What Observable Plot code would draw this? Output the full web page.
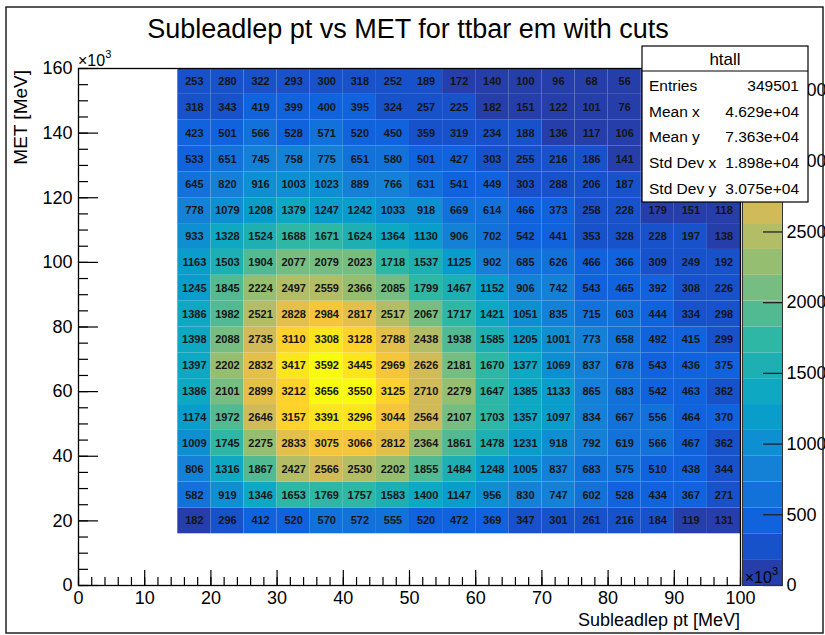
<!DOCTYPE html>
<html><head><meta charset="utf-8">
<script src="https://cdn.jsdelivr.net/npm/d3@7"></script>
<script src="https://cdn.jsdelivr.net/npm/@observablehq/plot@0.6"></script>
<style>
body{margin:0;background:#fff;}
#wrap{position:relative;width:825px;height:635px;overflow:hidden;font-family:"Liberation Sans",Arial,Helvetica,sans-serif;background:#fff;}
#wrap svg{position:absolute;top:0;overflow:hidden;}
</style></head><body><div id="wrap"></div>
<script>
// ---- data ----
const ptEdges  = [15,20,25,30,35,40,45,50,55,60,65,70,75,80,85,90,95,100]; // Subleadlep pt bin edges (x10^3 MeV)
const metEdges = [16,24,32,40,48,56,64,72,80,88,96,104,112,120,128,136,144,152,160]; // MET bin edges (x10^3 MeV)
// counts per MET bin (named by lower edge), left to right in pt
const met16  = [182,296,412,520,570,572,555,520,472,369,347,301,261,216,184,119,131];
const met24  = [582,919,1346,1653,1769,1757,1583,1400,1147,956,830,747,602,528,434,367,271];
const met32  = [806,1316,1867,2427,2566,2530,2202,1855,1484,1248,1005,837,683,575,510,438,344];
const met40  = [1009,1745,2275,2833,3075,3066,2812,2364,1861,1478,1231,918,792,619,566,467,362];
const met48  = [1174,1972,2646,3157,3391,3296,3044,2564,2107,1703,1357,1097,834,667,556,464,370];
const met56  = [1386,2101,2899,3212,3656,3550,3125,2710,2279,1647,1385,1133,865,683,542,463,362];
const met64  = [1397,2202,2832,3417,3592,3445,2969,2626,2181,1670,1377,1069,837,678,543,436,375];
const met72  = [1398,2088,2735,3110,3308,3128,2788,2438,1938,1585,1205,1001,773,658,492,415,299];
const met80  = [1386,1982,2521,2828,2984,2817,2517,2067,1717,1421,1051,835,715,603,444,334,298];
const met88  = [1245,1845,2224,2497,2559,2366,2085,1799,1467,1152,906,742,543,465,392,308,226];
const met96  = [1163,1503,1904,2077,2079,2023,1718,1537,1125,902,685,626,466,366,309,249,192];
const met104 = [933,1328,1524,1688,1671,1624,1364,1130,906,702,542,441,353,328,228,197,138];
const met112 = [778,1079,1208,1379,1247,1242,1033,918,669,614,466,373,258,228,179,151,118];
const met120 = [645,820,916,1003,1023,889,766,631,541,449,303,288,206,187,160,128,96];
const met128 = [533,651,745,758,775,651,580,501,427,303,255,216,186,141,118,96,80];
const met136 = [423,501,566,528,571,520,450,359,319,234,188,136,117,106,88,72,58];
const met144 = [318,343,419,399,400,395,324,257,225,182,151,122,101,76,64,50,42];
const met152 = [253,280,322,293,300,318,252,189,172,140,100,96,68,56,46,38,30];
const metRows = [met16,met24,met32,met40,met48,met56,met64,met72,met80,met88,met96,met104,met112,met120,met128,met136,met144,met152];

const xTicks = [0,10,20,30,40,50,60,70,80,90,100];
const yTicks = [0,20,40,60,80,100,120,140,160];
const zTicks = [0,500,1000,1500,2000,2500,3000,3500];
const statLabels = ["Entries","Mean x","Mean y","Std Dev x","Std Dev y"];
const statValues = ["349501","4.629e+04","7.363e+04","1.898e+04","3.075e+04"];
const histName = "htall";
const title = "Subleadlep pt vs MET for ttbar em with cuts";
const xLabel = "Subleadlep pt [MeV]";
const yLabel = "MET [MeV]";

// ---- build cells ----
const cells = [];
metRows.forEach((row, j) => row.forEach((v, i) => {
  if (v > 0) cells.push({x1: ptEdges[i], x2: ptEdges[i+1], y1: metEdges[j], y2: metEdges[j+1], v});
}));
// stats box region (in data units) hides some cell labels
const boxX = 85, boxY = 120;
const labelled = cells.filter(d => !(d.x1 >= boxX && d.y1 >= boxY));
const zmax = d3.max(cells, d => d.v);
const nCont = 20;
const levels = d3.range(1, nCont).map(k => k * zmax / nCont);
const birdStops = ["#352a87","#0f5cdd","#1481d6","#06a4ca","#2eb7a4","#87bf77","#d1bb59","#fec832","#f9fb0e"];
const bird = d3.piecewise(d3.interpolateRgb, birdStops);
const bandColors = d3.range(nCont).map(i => bird(Math.min(1,(i + 0.99) / nCont)));
const colorOpt = {type: "threshold", domain: levels, range: bandColors};

const FONT = '"Liberation Sans", Arial, Helvetica, sans-serif';
const wrap = document.getElementById("wrap");

// ---- main heat map ----
const main = Plot.plot({
  width: 825, height: 635,
  marginLeft: 78, marginRight: 85, marginTop: 68, marginBottom: 50,
  x: {domain: [0, 100]},
  y: {domain: [0, 160]},
  color: colorOpt,
  style: {fontFamily: FONT, fontSize: "17px", color: "#000", background: "transparent"},
  marks: [
    Plot.rect(cells, {x1: "x1", x2: "x2", y1: "y1", y2: "y2", fill: "v"}),
    Plot.text(labelled, {x: d => (d.x1 + d.x2) / 2, y: d => (d.y1 + d.y2) / 2, text: d => String(d.v),
      fontSize: 11, fontWeight: "bold", fill: "#151515"}),
    Plot.axisX({ticks: d3.range(0, 101, 2), tickSize: -8, tickFormat: () => "", label: null, strokeWidth: 1.2}),
    Plot.axisX({ticks: xTicks, tickSize: -15, tickFormat: () => "", label: null, strokeWidth: 1.2}),
    Plot.axisX({ticks: xTicks, tickSize: 0, tickPadding: 6, tickFormat: d => String(d), label: null, fontSize: 18}),
    Plot.axisY({ticks: d3.range(0, 161, 5), tickSize: -10, tickFormat: () => "", label: null, strokeWidth: 1.2}),
    Plot.axisY({ticks: yTicks, tickSize: -20, tickFormat: () => "", label: null, strokeWidth: 1.2}),
    Plot.axisY({ticks: yTicks, tickSize: 0, tickPadding: 6, tickFormat: d => String(d), label: null, fontSize: 18}),
    Plot.frame({stroke: "#000", strokeWidth: 1.3})
  ]
});
main.style.left = "0px";
wrap.appendChild(main);

// ---- colour bar ----
const bandEdges = [0, ...levels, zmax];
const bands = d3.range(nCont).map(i => ({lo: bandEdges[i], hi: bandEdges[i+1], mid: (bandEdges[i] + bandEdges[i+1]) / 2}));
const cbar = Plot.plot({
  width: 85, height: 635,
  marginLeft: 2, marginRight: 43, marginTop: 68, marginBottom: 50,
  x: {domain: [0, 1], axis: null},
  y: {domain: [0, zmax]},
  color: colorOpt,
  style: {fontFamily: FONT, fontSize: "18px", color: "#000", background: "transparent"},
  marks: [
    Plot.rect(bands, {x1: 0, x2: 1, y1: "lo", y2: "hi", fill: "mid"}),
    Plot.axisY({anchor: "right", ticks: zTicks, tickSize: -20, tickFormat: () => "", label: null, stroke: "#222", strokeWidth: 1.3}),
    Plot.axisY({anchor: "right", ticks: zTicks, tickSize: 0, tickPadding: 4, tickFormat: d => String(d), label: null, fontSize: 18}),
    Plot.frame({stroke: "#333", strokeWidth: 1})
  ]
});
cbar.style.left = "740px";
wrap.appendChild(cbar);

// ---- overlay: title, labels, stats box, border ----
const ov = d3.select(wrap).append("svg").attr("width", 825).attr("height", 635)
  .style("left", "0px").attr("font-family", FONT);
ov.append("text").attr("x", 408).attr("y", 38).attr("text-anchor", "middle")
  .attr("font-size", 27).text(title);
ov.append("text").attr("x", 740).attr("y", 626).attr("text-anchor", "end")
  .attr("font-size", 18).text(xLabel);
ov.append("text").attr("transform", "translate(27,70) rotate(-90)").attr("text-anchor", "end")
  .attr("font-size", 19).text(yLabel);
function x10(x, y, anchor) {
  const t = ov.append("text").attr("x", x).attr("y", y).attr("font-size", 16).attr("text-anchor", anchor);
  t.append("tspan").text("×10");
  t.append("tspan").attr("dy", -8).attr("font-size", 11).text("3");
}
x10(78, 66, "start");
x10(778, 583, "end");
// stats box
const bx = 642, by = 46, bw = 166, bh = 156;
ov.append("rect").attr("x", bx).attr("y", by).attr("width", bw).attr("height", bh)
  .attr("fill", "#fff").attr("stroke", "#000").attr("stroke-width", 1.2);
ov.append("line").attr("x1", bx).attr("x2", bx + bw).attr("y1", by + 25).attr("y2", by + 25)
  .attr("stroke", "#000").attr("stroke-width", 1.2);
ov.append("text").attr("x", bx + bw / 2).attr("y", by + 19).attr("text-anchor", "middle")
  .attr("font-size", 17).text(histName);
statLabels.forEach((s, i) => {
  const yy = by + 45 + i * 25.7;
  ov.append("text").attr("x", bx + 7).attr("y", yy).attr("font-size", 15.5).text(s);
  ov.append("text").attr("x", bx + bw - 9).attr("y", yy).attr("text-anchor", "end").attr("font-size", 15.5).text(statValues[i]);
});
// outer border
ov.append("rect").attr("x", 6).attr("y", 7).attr("width", 817).attr("height", 626)
  .attr("fill", "none").attr("stroke", "#222").attr("stroke-width", 1.5);
</script>
</body></html>
